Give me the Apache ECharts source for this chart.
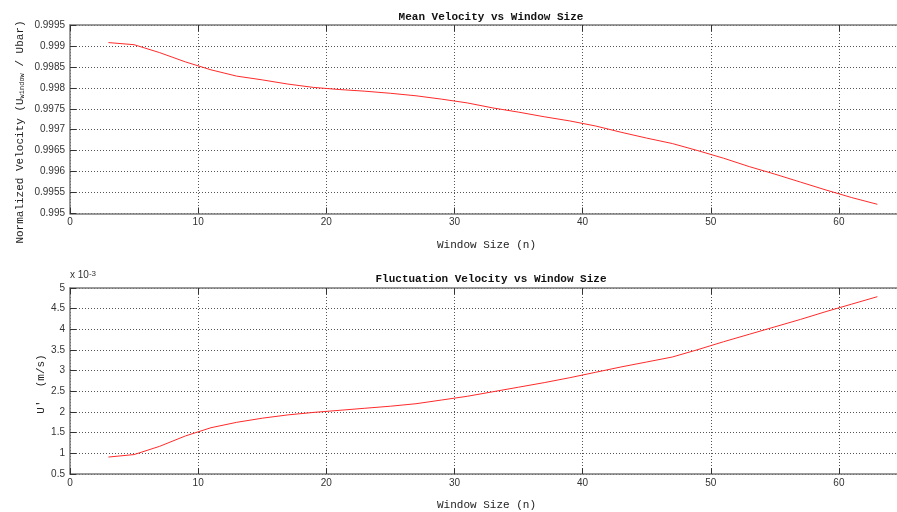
<!DOCTYPE html>
<html>
<head>
<meta charset="utf-8">
<script src="https://cdn.jsdelivr.net/npm/echarts@6/dist/echarts.min.js"></script>
<style>html,body{margin:0;padding:0;background:#fff;overflow:hidden;}#c{width:960px;height:512px;}</style>
</head>
<body>
<div id="c"></div>
<script>
// Window sizes (n)
const windowSizes = [3,5,7,9,11,13,15,17,19,21,23,25,27,29,31,33,35,37,39,41,43,45,47,49,51,53,55,57,59,61,63];
// Normalized mean velocity (U_window / Ubar)
const meanVelocity = [0.99908,0.99903,0.99884,0.99862,0.99843,0.99828,0.99819,0.99809,0.99801,0.99796,0.99792,0.99787,0.99781,0.99773,0.99764,0.99752,0.99742,0.99731,0.99721,0.99709,0.99694,0.99680,0.99667,0.99650,0.99632,0.99612,0.99594,0.99575,0.99556,0.99538,0.99522];
// Fluctuation velocity U' (m/s), in units of 1e-3
const fluctVelocity = [0.91,0.97,1.17,1.42,1.62,1.75,1.85,1.93,1.99,2.04,2.09,2.14,2.20,2.29,2.38,2.49,2.60,2.71,2.83,2.96,3.09,3.21,3.33,3.51,3.70,3.88,4.06,4.24,4.43,4.61,4.79];
const xTicks = [0,10,20,30,40,50,60];
const topTitle = 'Mean Velocity vs Window Size';
const bottomTitle = 'Fluctuation Velocity vs Window Size';
const xLabel = 'Window Size (n)';

const mono = '"Liberation Mono", "Courier New", monospace';
const sans = '"Liberation Sans", Arial, sans-serif';
const gridLine = {show:true, lineStyle:{color:'#555', width:1, type:[1,2]}};

function xAx(gi){
  return [{
    type:'value', gridIndex:gi, min:0, max:65, interval:10, position:'bottom',
    axisLine:{show:true, lineStyle:{color:'#7a7a7a', width:1.5}},
    axisTick:{show:true, inside:true, length:6, lineStyle:{color:'#333'}},
    axisLabel:{show:true, margin:4, color:'#333', fontFamily:sans, fontSize:10,
      formatter:v => xTicks.indexOf(v) >= 0 ? String(v) : ''},
    splitLine:gridLine,
    name:xLabel, nameLocation:'middle', nameGap:26,
    nameTextStyle:{fontFamily:mono, fontSize:11, color:'#222'}
  },{
    type:'value', gridIndex:gi, min:0, max:65, interval:10, position:'top',
    axisLine:{show:true, lineStyle:{color:'#7a7a7a', width:1.5}},
    axisTick:{show:true, inside:true, length:6, lineStyle:{color:'#333'}},
    axisLabel:{show:false}, splitLine:{show:false}
  }];
}
function yAx(gi, mn, mx, iv){
  return {
    type:'value', gridIndex:gi, min:mn, max:mx, interval:iv,
    axisLine:{show:true, lineStyle:{color:'#7a7a7a', width:1.5}},
    axisTick:{show:true, inside:true, length:6, lineStyle:{color:'#333'}},
    axisLabel:{show:true, margin:5, color:'#333', fontFamily:sans, fontSize:10,
      formatter:v => String(parseFloat(v.toFixed(6)))},
    splitLine:gridLine
  };
}

const chart = echarts.init(document.getElementById('c'), null, {renderer:'canvas'});
chart.setOption({
  animation:false,
  backgroundColor:'#fff',
  title:[
    {text:topTitle, left:486, top:7, textAlign:'center',
     textStyle:{fontFamily:mono, fontWeight:'bold', fontSize:11, color:'#111'}},
    {text:bottomTitle, left:486, top:269, textAlign:'center',
     textStyle:{fontFamily:mono, fontWeight:'bold', fontSize:11, color:'#111'}}
  ],
  grid:[
    {left:70, top:25, width:833, height:188.5},
    {left:70, top:288, width:833, height:189}
  ],
  xAxis:[...xAx(0), ...xAx(1)],
  yAxis:[yAx(0, 0.995, 0.9995, 0.0005), yAx(1, 0.5, 5, 0.5)],
  series:[
    {type:'line', xAxisIndex:0, yAxisIndex:0, showSymbol:false, smooth:false,
     data:windowSizes.map((n,i)=>[n, meanVelocity[i]]),
     lineStyle:{color:'#ff2a2a', width:1}},
    {type:'line', xAxisIndex:2, yAxisIndex:1, showSymbol:false, smooth:false,
     data:windowSizes.map((n,i)=>[n, fluctVelocity[i]]),
     lineStyle:{color:'#ff2a2a', width:1}}
  ],
  graphic:[
    {type:'text', x:20, y:132, rotation:Math.PI/2,
     style:{text:'{a|Normalized Velocity (U}{s|window}{a| / Ubar)}',
       align:'center', verticalAlign:'middle', fill:'#222',
       rich:{
         a:{fontFamily:mono, fontSize:11, lineHeight:11, verticalAlign:'top', padding:[0,0,4,0], fill:'#222'},
         s:{fontFamily:mono, fontSize:7, lineHeight:7, verticalAlign:'bottom', fill:'#222'}
       }}},
    {type:'text', x:41, y:384, rotation:Math.PI/2,
     style:{text:"U'  (m/s)", align:'center', verticalAlign:'middle',
       font:'11px ' + mono, fill:'#222'}},
    {type:'text', x:70, y:275,
     style:{text:'{a|x 10}{s|-3}', align:'left', verticalAlign:'middle', fill:'#333',
       rich:{
         a:{fontFamily:sans, fontSize:10, lineHeight:10, verticalAlign:'bottom', padding:[5,0,0,0], fill:'#333'},
         s:{fontFamily:sans, fontSize:8, lineHeight:8, verticalAlign:'top', fill:'#333'}
       }}}
  ]
});
</script>
</body>
</html>
